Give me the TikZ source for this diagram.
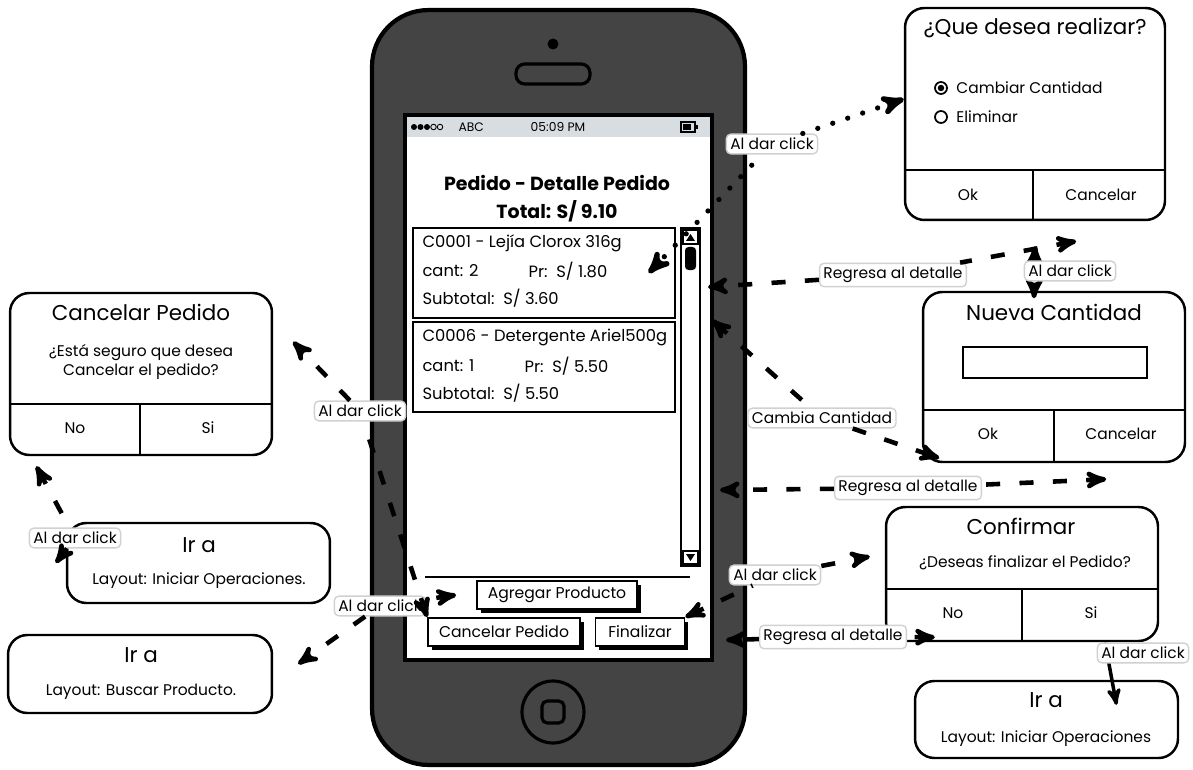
\documentclass[tikz,border=0pt]{standalone}
\usepackage{fontspec}
\setmainfont{Poppins}
\usepackage{tikz}
\usetikzlibrary{arrows}
\usetikzlibrary{positioning}
\usetikzlibrary{shadows}
\definecolor{phonegray}{HTML}{444444}
\definecolor{statusbar}{HTML}{D8DDE2}
\newcommand{\dlgtitle}{\fontsize{12.2}{14}\selectfont}
\newcommand{\dlgtext}{\fontsize{8.8}{10.8}\selectfont}
\newcommand{\lbltext}{\fontsize{8.8}{10}\selectfont}
\newcommand{\scrtext}{\fontsize{9.3}{11}\selectfont}
\begin{document}
\begin{tikzpicture}[x=0.02cm,y=-0.02cm,>=stealth',thick]
      \tikzstyle{dialog} = [draw, line width=1.4pt, rounded corners=11pt, fill=white, inner sep=0pt]
      \tikzstyle{cell} = [font=\dlgtext, inner sep=1pt]
      \tikzstyle{item} = [draw, line width=1.4pt, fill=white, minimum width=5.24cm, minimum height=1.8cm, inner sep=0pt]
      \tikzstyle{button} = [draw, line width=1pt, fill=white, font=\fontsize{8.9}{10}\selectfont, inner sep=0pt, minimum height=0.56cm,
         drop shadow={shadow xshift=2pt, shadow yshift=-2pt, opacity=1, fill=black}]
      \tikzstyle{tag box} = [draw=black!18, fill=white, rounded corners=2.5pt, inner sep=2.2pt, font=\lbltext]
      \tikzstyle{flow} = [line width=2.6pt, dash pattern=on 8pt off 11pt]
      \tikzstyle{dots} = [line width=3pt, line cap=round, dash pattern=on 0pt off 9pt]
      \useasboundingbox (0,0) rectangle (1193,770);

      %phone
      \node[draw, line width=2.4pt, fill=phonegray, rounded corners=32pt, minimum width=7.46cm, minimum height=15.1cm] (phone) at (558.5,387.5) {};
      \fill (553,44) circle (0.11cm);
      \draw[line width=1.8pt, rounded corners=5pt] (516,64) rectangle (590,84);
      \draw[line width=1.8pt] (553,712) circle (0.62cm);
      \draw[line width=1.8pt, rounded corners=3pt] (542,701) rectangle (564,723);
      \node[draw, line width=2pt, fill=white, minimum width=6.14cm, minimum height=10.9cm, inner sep=0pt] (screen) at (558.5,387.5) {};
      \fill[statusbar] (407,117) rectangle (710,137);
      \foreach \i in {0,1,2} \fill (414+6.5*\i,127) circle (0.06cm);
      \foreach \i in {3,4} \draw[line width=0.5pt] (414+6.5*\i,127) circle (0.055cm);
      \node[font=\fontsize{7}{8}\selectfont, anchor=west] (carrier) at (452,127) {ABC};
      \node[font=\fontsize{7}{8}\selectfont] (clock) at (558,127) {05:09 PM};
      \draw[line width=0.8pt] (681,122) rectangle (695,132);
      \fill (683,124) rectangle (691,130);
      \fill (695,125) rectangle (698,129);

      \node[font=\bfseries\fontsize{10.8}{12}\selectfont] (scrtitle) at (557,183) {Pedido - Detalle Pedido};
      \node[font=\bfseries\fontsize{10.8}{12}\selectfont] (scrtotal) at (557,211) {Total: S/ 9.10};

      \node[item] (item1) at (544,273) {};
      \node[font=\scrtext, anchor=west] (item1code) at (416,243) {C0001 - Lejía Clorox 316g};
      \node[font=\scrtext, anchor=west] (item1cant) at (416,271) {cant: 2};
      \node[font=\scrtext, anchor=west] (item1pr) at (522,271) {Pr:\ \ S/ 1.80};
      \node[font=\scrtext, anchor=west] (item1sub) at (416,298) {Subtotal:\ \ S/ 3.60};
      \node[item] (item2) at (544,367) {};
      \node[font=\scrtext, anchor=west] (item2code) at (416,337) {C0006 - Detergente Ariel500g};
      \node[font=\scrtext, anchor=west] (item2cant) at (416,366) {cant: 1};
      \node[font=\scrtext, anchor=west] (item2pr) at (518,366) {Pr:\ \ S/ 5.50};
      \node[font=\scrtext, anchor=west] (item2sub) at (416,393) {Subtotal:\ \ S/ 5.50};

      %scrollbar
      \draw[line width=1.2pt, fill=white] (681,228) rectangle (700,566);
      \draw[line width=0.8pt] (683,230) rectangle (698,244);
      \fill (686,241) -- (695,241) -- (690.5,234) -- cycle;
      \fill[rounded corners=2pt] (685,247) rectangle (696,270);
      \draw[line width=0.8pt] (683,551) rectangle (698,564);
      \fill (686,554) -- (695,554) -- (690.5,561) -- cycle;

      \draw[line width=1pt] (425,577) -- (690,577);
      \node[button, minimum width=3.2cm] (agrbtn) at (557,595) {Agregar Producto};
      \node[button, minimum width=3.04cm] (cancelbtn) at (504,632) {Cancelar Pedido};
      \node[button, minimum width=1.78cm] (finbtn) at (640,632) {Finalizar};

      %dialogs
      \node[dialog, minimum width=5.2cm, minimum height=4.24cm] (askdlg) at (1035,114) {};
      \node[font=\dlgtitle] (asktitle) at (1035,28) {¿Que desea realizar?};
      \draw[line width=1pt] (941,88) circle (0.12cm);
      \fill (941,88) circle (0.065cm);
      \draw[line width=1pt] (941,117) circle (0.12cm);
      \node[cell, anchor=west] (optcambiar) at (954,88) {Cambiar Cantidad};
      \node[cell, anchor=west] (opteliminar) at (954,117) {Eliminar};
      \draw[line width=1.3pt] (905,170) -- (1165,170) (1033,170) -- (1033,220);
      \node[cell] (askok) at (968,195) {Ok};
      \node[cell] (askcancel) at (1101,195) {Cancelar};

      \node[dialog, minimum width=5.24cm, minimum height=3.4cm] (newdlg) at (1054,377) {};
      \node[font=\dlgtitle] (newtitle) at (1054,312) {Nueva Cantidad};
      \draw[line width=1.6pt] (963,347) rectangle (1147,378);
      \draw[line width=1.3pt] (923,410) -- (1185,410) (1054,410) -- (1054,462);
      \node[cell] (newok) at (988,434) {Ok};
      \node[cell] (newcancel) at (1121,434) {Cancelar};

      \node[dialog, minimum width=5.44cm, minimum height=2.68cm] (confdlg) at (1022,574) {};
      \node[font=\dlgtitle] (conftitle) at (1021,526) {Confirmar};
      \node[cell] (confask) at (1025,563) {¿Deseas finalizar el Pedido?};
      \draw[line width=1.3pt] (886,589) -- (1158,589) (1022,589) -- (1022,641);
      \node[cell] (confno) at (953,613) {No};
      \node[cell] (confsi) at (1091,613) {Si};

      \node[dialog, minimum width=5.26cm, minimum height=1.54cm] (irar) at (1046.5,719.5) {};
      \node[font=\dlgtitle] (irartitle) at (1046,700) {Ir a};
      \node[cell] (irartext) at (1046,739) {Layout: Iniciar Operaciones};

      \node[dialog, minimum width=5.24cm, minimum height=3.24cm] (cpdlg) at (141,374) {};
      \node[font=\dlgtitle] (cptitle) at (141,312) {Cancelar Pedido};
      \node[cell, align=center] (cpask) at (141,362) {¿Está seguro que desea\\Cancelar el pedido?};
      \draw[line width=1.3pt] (10,404) -- (272,404) (140,404) -- (140,455);
      \node[cell] (cpno) at (75,428) {No};
      \node[cell] (cpsi) at (208,428) {Si};

      \node[dialog, minimum width=5.26cm, minimum height=1.6cm] (iral) at (198.5,563) {};
      \node[font=\dlgtitle] (iraltitle) at (199,545) {Ir a};
      \node[cell] (iraltext) at (199,581) {Layout: Iniciar Operaciones.};

      \node[dialog, minimum width=5.28cm, minimum height=1.56cm] (irab) at (140,674) {};
      \node[font=\dlgtitle] (irabtitle) at (141,655) {Ir a};
      \node[cell] (irabtext) at (141,692) {Layout: Buscar Producto.};

      %lines under their labels
      \coordinate (backA) at (708,287);
      \coordinate (backB) at (712,320);
      \coordinate (backC) at (720,490);
      \coordinate (backD) at (726,640);
      \draw[flow, <->] ([yshift=-0.5cm]askdlg.south) -- ([xshift=-0.4cm,yshift=-0.15cm]newdlg.north);
      \draw[<->, line width=2pt] ([xshift=1.66cm]confdlg.south) -- ([xshift=1.4cm,yshift=-0.5cm]irar.north);

      %labels
      \node[tag box] (tagA1) at (772,144) {Al dar click};
      \node[tag box] (tagR1) at (893,275) {Regresa al detalle};
      \node[tag box] (tagA2) at (1070,271) {Al dar click};
      \node[tag box] (tagC) at (822,418) {Cambia Cantidad};
      \node[tag box] (tagR2) at (908,488) {Regresa al detalle};
      \node[tag box] (tagA3) at (775,575) {Al dar click};
      \node[tag box] (tagR3) at (833,637) {Regresa al detalle};
      \node[tag box] (tagA4) at (1143,653) {Al dar click};
      \node[tag box] (tagA5) at (360,411) {Al dar click};
      \node[tag box] (tagA6) at (75,538) {Al dar click};
      \node[tag box] (tagA7) at (380,606) {Al dar click};

      %lines
      \draw[dots, <-] ([xshift=-0.55cm]item1.east) -- (tagA1);
      \draw[dots, ->] (tagA1) -- ([yshift=0.3cm]askdlg.west);
      \draw[flow, <-] ([xshift=-1.8cm,yshift=-0.4cm]askdlg.south east) -- (tagR1);
      \draw[flow, ->] (tagR1) -- (backA);
      \draw[flow, <-] (backB) -- (tagC);
      \draw[flow, ->] (tagC) -- ([xshift=0.35cm,yshift=0.1cm]newdlg.south west);
      \draw[flow, <-] ([xshift=-1.6cm,yshift=-0.32cm]newdlg.south east) -- (tagR2);
      \draw[flow, ->] (tagR2) -- (backC);
      \draw[flow, <-] (finbtn.north east) -- (tagA3);
      \draw[flow, ->] (tagA3) -- ([xshift=-0.3cm,yshift=0.35cm]confdlg.west);
      \draw[flow, <-] ([xshift=1cm,yshift=0.1cm]confdlg.south west) -- (tagR3);
      \draw[flow, ->] (tagR3) -- (backD);
      \draw[flow, <-] (cancelbtn.north west) -- (tagA5);
      \draw[flow, ->] (tagA5) -- ([xshift=0.4cm,yshift=-1cm]cpdlg.north east);
      \draw[flow, <-] ([xshift=0.55cm,yshift=-0.2cm]cpdlg.south west) -- (tagA6);
      \draw[flow, ->] (tagA6) -- ([xshift=-0.2cm]iral.west);
      \draw[flow, <-] ([xshift=-0.4cm]agrbtn.west) -- (tagA7);
      \draw[flow, ->] (tagA7) -- ([xshift=0.5cm,yshift=0.2cm]irab.east);
\end{tikzpicture}
\end{document}
